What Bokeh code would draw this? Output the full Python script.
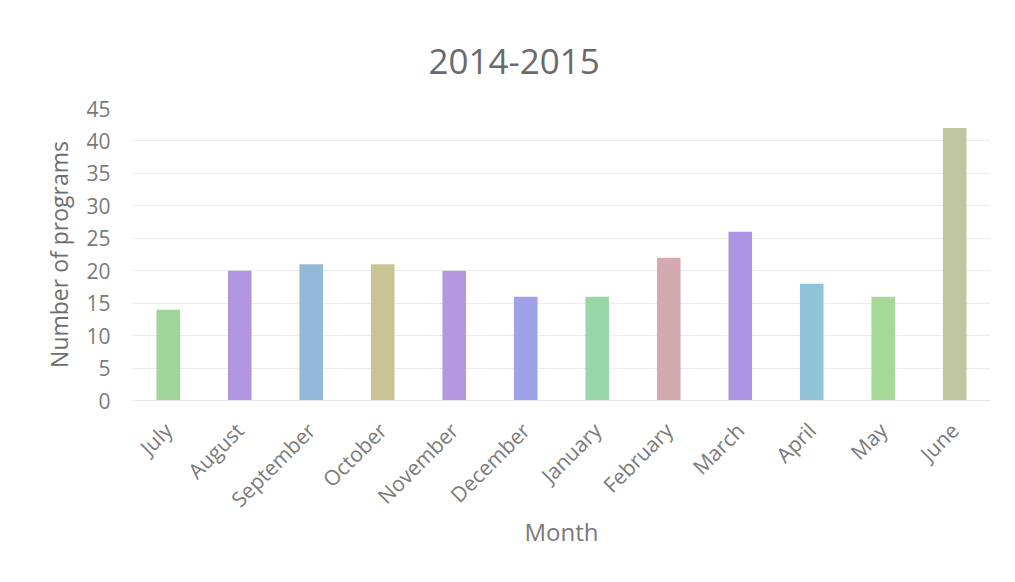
import math
from bokeh.plotting import figure
from bokeh.models import ColumnDataSource, Range1d, FactorRange
from bokeh.embed import file_html
from bokeh.resources import INLINE

months = ["July", "August", "September", "October", "November", "December",
          "January", "February", "March", "April", "May", "June"]
programs = [14, 20, 21, 21, 20, 16, 16, 22, 26, 18, 16, 42]
y_ticks = [0, 5, 10, 15, 20, 25, 30, 35, 40, 45]
title_text = "2014-2015"
x_label = "Month"
y_label = "Number of programs"

# approximate dominant hue of each (scanned) bar
bar_colors = ["#9fd49a", "#b394e2", "#94b8d8", "#c9c493", "#b598e0", "#9fa2e6",
              "#98d8a6", "#d2aab0", "#ad94e2", "#8fc4d8", "#a6d898", "#bfc6a0"]

FONT = "Open Sans"
TEXT = "#7a7a7a"

src = ColumnDataSource(dict(month=months, n=programs, color=bar_colors))

p = figure(width=999, height=566, x_range=FactorRange(*months, range_padding=0),
           y_range=Range1d(0, 45), output_backend="svg", toolbar_location=None,
           min_border_left=132, min_border_right=9, min_border_top=108,
           min_border_bottom=166)

p.vbar(x="month", top="n", width=0.33, fill_color="color", line_color=None, source=src)

p.title.text = title_text
p.title.align = "left"
p.title.offset = 296
p.title.standoff = 70
p.title.text_font = FONT
p.title.text_font_size = "35px"
p.title.text_font_style = "normal"
p.title.text_color = "#6a6a6a"

p.outline_line_color = None
p.xgrid.grid_line_color = None
p.ygrid.grid_line_color = "#ececec"
p.ygrid.grid_line_width = 1

p.yaxis.ticker = y_ticks
p.yaxis.axis_line_color = None
p.yaxis.major_tick_line_color = None
p.yaxis.minor_tick_line_color = None
p.yaxis.major_label_text_font = FONT
p.yaxis.major_label_text_font_size = "21px"
p.yaxis.major_label_text_color = TEXT
p.yaxis.major_label_standoff = 16
p.yaxis.axis_label = y_label
p.yaxis.axis_label_text_font = FONT
p.yaxis.axis_label_text_font_size = "23px"
p.yaxis.axis_label_text_font_style = "normal"
p.yaxis.axis_label_text_color = "#6e6e6e"
p.yaxis.axis_label_standoff = 8

p.xaxis.axis_line_color = "#e4e4e4"
p.xaxis.major_tick_line_color = None
p.xaxis.minor_tick_line_color = None
p.xaxis.major_label_orientation = math.pi / 4
p.xaxis.major_label_text_font = FONT
p.xaxis.major_label_text_font_size = "21px"
p.xaxis.major_label_text_color = TEXT
p.xaxis.major_label_standoff = 20
p.xaxis.axis_label = x_label
p.xaxis.axis_label_text_font = FONT
p.xaxis.axis_label_text_font_size = "24px"
p.xaxis.axis_label_text_font_style = "normal"
p.xaxis.axis_label_text_color = "#7a7a7a"
p.xaxis.axis_label_standoff = -11

open("out.html", "w").write(file_html(p, INLINE))
